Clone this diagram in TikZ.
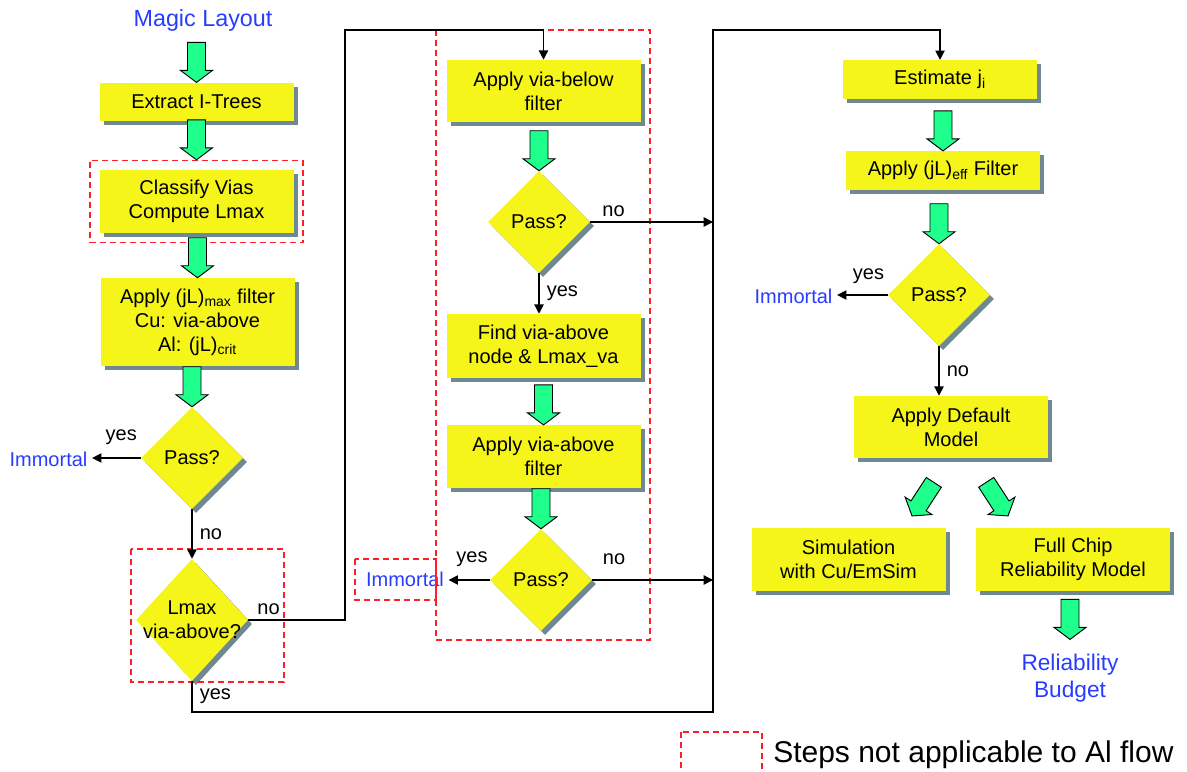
\documentclass[tikz,border=0pt]{standalone}
\usepackage{fontspec}
\setmainfont{Liberation Sans}
\usetikzlibrary{shapes.geometric,shadows,arrows.meta,calc,fit}

\definecolor{boxyellow}{RGB}{245,245,25}
\definecolor{shadowgray}{RGB}{112,136,146}
\definecolor{flowgreen}{RGB}{30,255,140}
\definecolor{termblue}{RGB}{40,60,255}
\definecolor{nared}{RGB}{255,30,40}

\tikzset{
  shadowed/.style={drop shadow={shadow xshift=3pt,shadow yshift=-3pt,fill=shadowgray,opacity=1}},
  stepbox/.style={rectangle, fill=boxyellow, align=center, inner sep=0pt,
    minimum width=145.5pt, font=\fontsize{15}{18}\selectfont, shadowed},
  decision/.style={diamond, fill=boxyellow, inner sep=0pt, minimum width=76.5pt,
    minimum height=76.5pt, font=\fontsize{15}{18}\selectfont, shadowed},
  term/.style={text=termblue, font=\fontsize{15}{18}\selectfont},
  lbl/.style={font=\fontsize{15}{18}\selectfont},
  link/.style={line width=1pt, -{Triangle[length=7pt,width=7pt]}},
  nabox/.style={draw=nared, dash pattern=on 4.5pt off 3pt, line width=1.1pt},
  pics/flow/.style={code={
    \draw[fill=flowgreen, line width=0.7pt] (-9,-40) -- (9,-40) -- (9,-12) -- (16,-12)
      -- (0,0) -- (-16,-12) -- (-9,-12) -- cycle;}}
}

\begin{document}
\begin{tikzpicture}[x=0.75pt, y=-0.75pt]
  \useasboundingbox (0,0) rectangle (1187,771);

  % left column
  \node[term, font=\fontsize{17.5}{21}\selectfont] (layout) at (203,20) {Magic Layout};
  \node[stepbox, minimum height=29pt] (extract) at (196.5,102) {Extract I-Trees};
  \node[stepbox, minimum height=47pt] (classify) at (196.5,201.5) {Classify Vias\\Compute Lmax};
  \node[stepbox, minimum height=66pt] (maxfilter) at (197.5,322)
    {Apply (jL)\textsubscript{max} filter\\Cu: via-above\\Al: (jL)\textsubscript{crit}};
  \node[decision] (pass1) at (192,458) {Pass?};
  \node[term] (immortal1) at (48.5,459) {Immortal};
  \node[decision, minimum width=84pt, minimum height=91.5pt,
    label={[lbl, align=center]center:{Lmax\\via-above?}}] (lmax) at (192,620) {};

  % middle column
  \node[stepbox, minimum height=46.5pt] (belowfilter) at (543.5,91) {Apply via-below\\filter};
  \node[decision] (pass2) at (539,222) {Pass?};
  \node[stepbox, minimum height=48pt] (findabove) at (543.5,346) {Find via-above\\node \& Lmax\_va};
  \node[stepbox, minimum height=47pt] (abovefilter) at (543.5,456.5) {Apply via-above\\filter};
  \node[decision] (pass3) at (541,580) {Pass?};
  \node[term] (immortal2) at (405,579) {Immortal};

  % right column
  \node[stepbox, minimum height=29pt] (estimate) at (940,79.5) {Estimate j\textsubscript{i}};
  \node[stepbox, minimum height=29pt] (efffilter) at (943,170.5) {Apply (jL)\textsubscript{eff} Filter};
  \node[decision] (pass4) at (939,295) {Pass?};
  \node[term] (immortal3) at (793.5,296) {Immortal};
  \node[stepbox, minimum height=46.5pt] (default) at (951,427) {Apply Default\\Model};
  \node[stepbox, minimum height=47pt] (simulation) at (848.5,559.5) {Simulation\\with Cu/EmSim};
  \node[stepbox, minimum height=47pt] (fullchip) at (1073,559.5) {Full Chip\\Reliability Model};
  \node[term, align=center, font=\fontsize{17}{20}\selectfont] (budget) at (1070,678) {Reliability\\Budget};

  % steps skipped in the Al flow
  \node[nabox, fit=(classify), inner sep=7pt] (naclassify) {};
  \draw[nabox] (131,549) rectangle (284,682);
  \draw[nabox] (436,30) rectangle (650,640);
  \draw[nabox] (355,559) rectangle (436,600);
  \draw[nabox] (681,732) rectangle (762,790);
  \node[lbl, font=\fontsize{22.5}{27}\selectfont, anchor=west, inner sep=0pt] (legend) at (773,755)
    {Steps not applicable to Al flow};

  % block arrows
  \pic at (extract.north) {flow};
  \pic at (naclassify.north) {flow};
  \pic at (maxfilter.north) {flow};
  \pic at (pass1.north) {flow};
  \pic at (pass2.north) {flow};
  \pic at (abovefilter.north) {flow};
  \pic at (pass3.north) {flow};
  \pic at (efffilter.north) {flow};
  \pic at (pass4.north) {flow};
  \pic[rotate=-33] at ($(simulation.north)+(63.5,-12)$) {flow};
  \pic[rotate=33] at ($(fullchip.north)+(-65,-12)$) {flow};
  \pic at ($(budget.north)+(0,-10)$) {flow};

  % decision lines
  \coordinate (bustop) at (713,30);
  \coordinate (busbot) at (713,712);
  \coordinate (jogtop) at (345,30);
  \draw[link] (pass1.west) -- node[lbl, pos=0.4, above=6pt]{yes} (pass1.west -| immortal1.east);
  \draw[link] (pass1.south) -- node[lbl, right=2pt]{no} (lmax.north);
  \draw[link] (lmax.east) -- node[lbl, pos=0.21, above]{no} (lmax.east -| jogtop)
    -- (jogtop) -| (belowfilter.north);
  \draw[link] (lmax.south) -- node[lbl, right=2pt]{yes} (lmax.south |- busbot)
    -- (busbot) -- (bustop) -| (estimate.north);
  \draw[link] (pass2.east) -- node[lbl, pos=0.19, above]{no} (pass2.east -| bustop);
  \draw[link] (pass2.south) -- node[lbl, right=2pt]{yes} (pass2.south |- findabove.north);
  \draw[link] (pass3.west) -- node[lbl, pos=0.43, above=6pt]{yes} (pass3.west -| immortal2.east);
  \draw[link] (pass3.east) -- node[lbl, pos=0.18, above=8pt]{no} (pass3.east -| bustop);
  \draw[link] (pass4.west) -- node[lbl, pos=0.38, above=5pt]{yes} (pass4.west -| immortal3.east);
  \draw[link] (pass4.south) -- node[lbl, right=2pt]{no} (pass4.south |- default.north);
\end{tikzpicture}
\end{document}
